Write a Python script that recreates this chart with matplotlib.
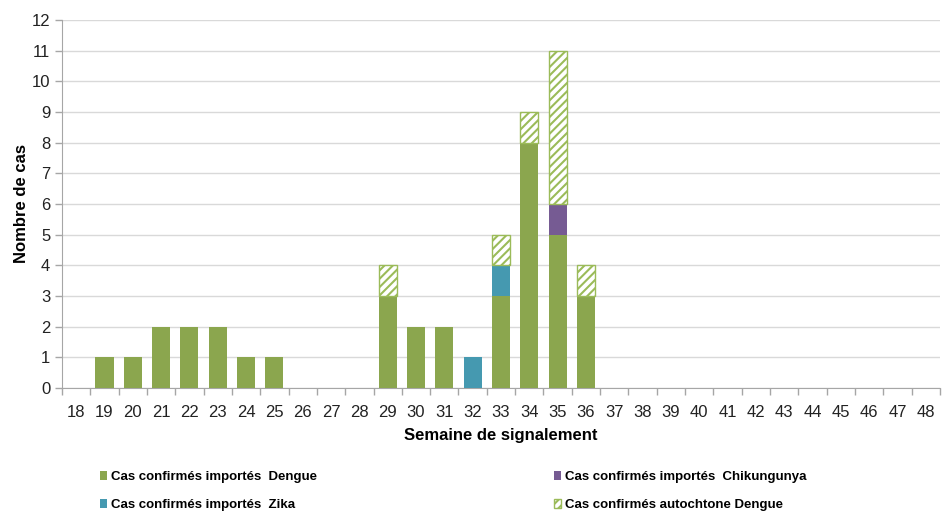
import matplotlib
matplotlib.use("Agg")
import matplotlib.pyplot as plt
import numpy as np
from matplotlib.patches import Patch

plt.rcParams['font.family'] = ['Liberation Sans', 'DejaVu Sans']
plt.rcParams['hatch.linewidth'] = 1.5

weeks = list(range(18, 49))
dengue_imp = {19: 1, 20: 1, 21: 2, 22: 2, 23: 2, 24: 1, 25: 1, 29: 3, 30: 2, 31: 2,
              33: 3, 34: 8, 35: 5, 36: 3}
chik_imp = {35: 1}
zika_imp = {32: 1, 33: 1}
dengue_auto = {29: 1, 33: 1, 34: 1, 35: 5, 36: 1}

labels = ["Cas confirmés importés  Dengue", "Cas confirmés importés  Chikungunya",
          "Cas confirmés importés  Zika", "Cas confirmés autochtone Dengue"]

green = '#8BA64E'
purple = '#765B93'
teal = '#4599B0'
hatch_green = '#9BBB59'

d = np.array([dengue_imp.get(w, 0) for w in weeks], dtype=float)
c = np.array([chik_imp.get(w, 0) for w in weeks], dtype=float)
z = np.array([zika_imp.get(w, 0) for w in weeks], dtype=float)
a = np.array([dengue_auto.get(w, 0) for w in weeks], dtype=float)

fig = plt.figure(figsize=(9.45, 5.13), dpi=100)
ax = fig.add_axes([0.0656, 0.2437, 0.929, 0.7173])
x = np.arange(len(weeks))
w = 0.64


def draw(vals, bottom, **kw):
    m = vals > 0
    ax.bar(x[m], vals[m], w, bottom=bottom[m], zorder=3, **kw)


zero = np.zeros_like(d)
draw(d, zero, color=green)
draw(c, d, color=purple)
draw(z, d + c, color=teal)
draw(a, d + c + z, color='white', edgecolor=hatch_green, hatch='////', linewidth=1.0)

ax.set_xlim(-0.5, len(weeks) - 0.5)
ax.set_ylim(0, 12)
ax.set_yticks(range(0, 13))
ax.yaxis.grid(True, color='#D9D9D9', linewidth=1.0, zorder=0)
ax.set_axisbelow(True)
for s in ['top', 'right']:
    ax.spines[s].set_visible(False)
for s in ['left', 'bottom']:
    ax.spines[s].set_color('#A6A6A6')
ax.tick_params(axis='y', colors='#A6A6A6', labelcolor='#222222', labelsize=12, length=5, width=1)
ax.set_xticks(np.arange(-0.5, len(weeks), 1.0))
ax.set_xticklabels([])
ax.set_xticks(x, minor=True)
ax.set_xticklabels([str(wk) for wk in weeks], minor=True, fontsize=12, color='#222222')
ax.tick_params(axis='x', which='major', colors='#A6A6A6', length=5, width=1)
ax.tick_params(axis='x', which='minor', length=0, pad=12)

ax.set_xlabel("Semaine de signalement", fontsize=12, fontweight='bold', labelpad=6)
ax.set_ylabel("Nombre de cas", fontsize=12, fontweight='bold', labelpad=2)

handles = [Patch(facecolor=green), Patch(facecolor=teal),
           Patch(facecolor=purple), Patch(facecolor='white', edgecolor=hatch_green, hatch='////')]
hl = [labels[0], labels[2], labels[1], labels[3]]
fig.legend(handles, hl, ncol=2, loc='upper left', bbox_to_anchor=(0.106, 0.082),
           frameon=False, prop={'weight': 'bold', 'size': 9.5},
           handlelength=0.5, handleheight=0.7, handletextpad=0.3,
           columnspacing=18, labelspacing=1.2, borderaxespad=0, borderpad=0)

fig.savefig("out.png", dpi=100)
